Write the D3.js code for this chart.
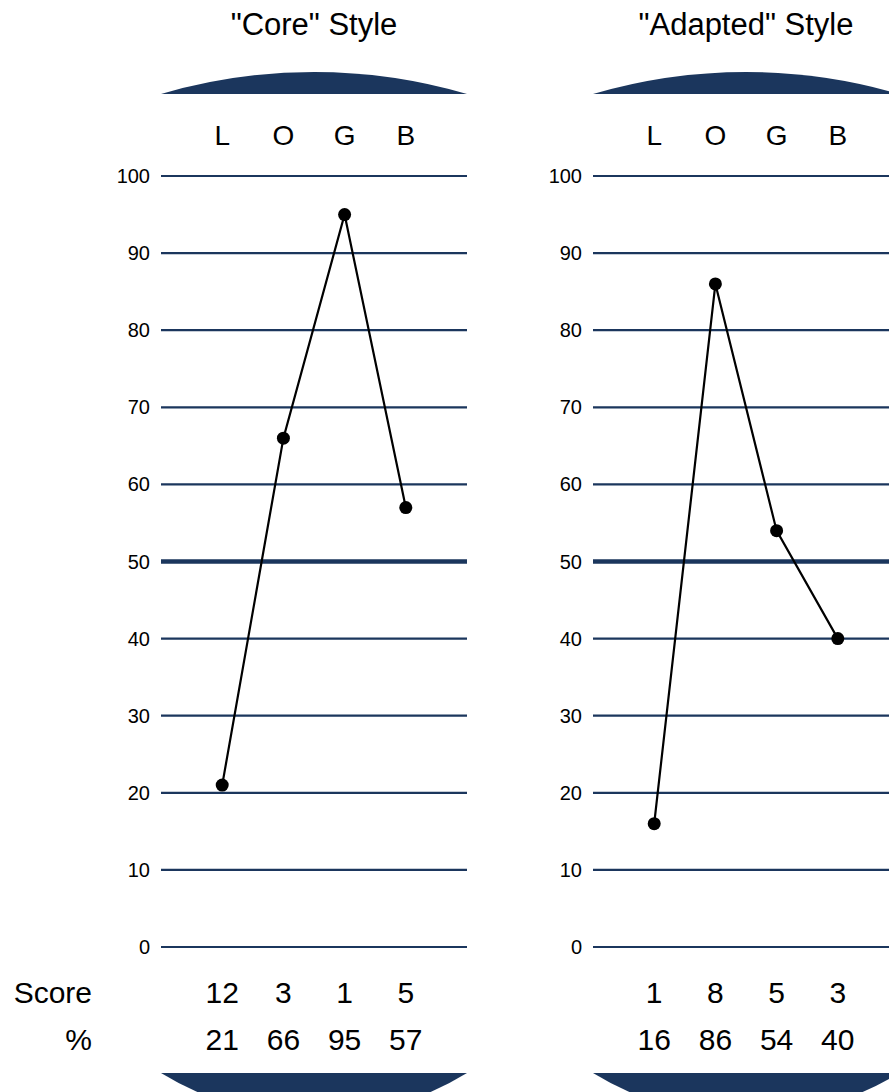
<!DOCTYPE html>
<html>
<head>
<meta charset="utf-8">
<script src="https://d3js.org/d3.v7.min.js"></script>
<style>
  body { margin: 0; background: #fff; }
  svg { display: block; font-family: "Liberation Sans", Arial, sans-serif; }
</style>
</head>
<body>
<script>
// chart values
var categories = ["L", "O", "G", "B"];
var titles = ['"Core" Style', '"Adapted" Style'];
var coreScores = [12, 3, 1, 5];
var corePct = [21, 66, 95, 57];
var adaptedScores = [1, 8, 5, 3];
var adaptedPct = [16, 86, 54, 40];
var yTicks = [0, 10, 20, 30, 40, 50, 60, 70, 80, 90, 100];
var rowLabels = ["Score", "%"];

var width = 889, height = 1092;
var navy = "#1b365d";

var svg = d3.select("body").append("svg")
  .attr("width", width).attr("height", height);

var panels = [
  {title: titles[0], scores: coreScores, pct: corePct, x0: 161},
  {title: titles[1], scores: adaptedScores, pct: adaptedPct, x0: 593}
];
var panelW = 306;

// shared vertical scale
var y = d3.scaleLinear().domain([0, 100]).range([947, 176]);

// row labels on the far left
svg.selectAll("text.rowlab")
  .data(rowLabels)
  .join("text")
  .attr("class", "rowlab")
  .attr("x", 92)
  .attr("y", function(d, i) { return 1003 + i * 47; })
  .attr("text-anchor", "end")
  .attr("font-size", 30)
  .text(function(d) { return d; });

panels.forEach(function(p) {
  var g = svg.append("g");
  var x = d3.scalePoint().domain(categories).range([p.x0, p.x0 + panelW]).padding(1);
  var cx = p.x0 + panelW / 2;

  g.append("text")
    .attr("x", cx).attr("y", 35)
    .attr("text-anchor", "middle")
    .attr("font-size", 31)
    .text(p.title);

  // top cap and bottom cap
  g.append("path")
    .attr("d", "M" + p.x0 + ",94 A543,543 0 0 1 " + (p.x0 + panelW) + ",94 Z")
    .attr("fill", navy);
  g.append("path")
    .attr("d", "M" + p.x0 + ",1073 A292,292 0 0 0 " + (p.x0 + panelW) + ",1073 Z")
    .attr("fill", navy);

  // category letters
  g.selectAll("text.cat")
    .data(categories)
    .join("text")
    .attr("class", "cat")
    .attr("x", function(d) { return x(d); })
    .attr("y", 145)
    .attr("text-anchor", "middle")
    .attr("font-size", 28)
    .text(function(d) { return d; });

  // grid lines
  g.selectAll("line.grid")
    .data(yTicks)
    .join("line")
    .attr("class", "grid")
    .attr("x1", p.x0).attr("x2", p.x0 + panelW)
    .attr("y1", function(d) { return y(d); })
    .attr("y2", function(d) { return y(d); })
    .attr("stroke", navy)
    .attr("stroke-width", function(d) { return d === 50 ? 4.5 : 2.2; });

  g.selectAll("text.tick")
    .data(yTicks)
    .join("text")
    .attr("class", "tick")
    .attr("x", p.x0 - 11)
    .attr("y", function(d) { return y(d) + 7; })
    .attr("text-anchor", "end")
    .attr("font-size", 20)
    .text(function(d) { return d; });

  var pts = categories.map(function(c, i) { return {c: c, v: p.pct[i]}; });

  g.append("path")
    .datum(pts)
    .attr("fill", "none")
    .attr("stroke", "#000")
    .attr("stroke-width", 2.2)
    .attr("d", d3.line()
      .x(function(d) { return x(d.c); })
      .y(function(d) { return y(d.v); }));

  g.selectAll("circle")
    .data(pts)
    .join("circle")
    .attr("cx", function(d) { return x(d.c); })
    .attr("cy", function(d) { return y(d.v); })
    .attr("r", 6.5)
    .attr("fill", "#000");

  // score and % rows
  g.selectAll("text.score")
    .data(p.scores)
    .join("text")
    .attr("class", "score")
    .attr("x", function(d, i) { return x(categories[i]); })
    .attr("y", 1003)
    .attr("text-anchor", "middle")
    .attr("font-size", 30)
    .text(function(d) { return d; });

  g.selectAll("text.pct")
    .data(p.pct)
    .join("text")
    .attr("class", "pct")
    .attr("x", function(d, i) { return x(categories[i]); })
    .attr("y", 1050)
    .attr("text-anchor", "middle")
    .attr("font-size", 30)
    .text(function(d) { return d; });
});
</script>
</body>
</html>
